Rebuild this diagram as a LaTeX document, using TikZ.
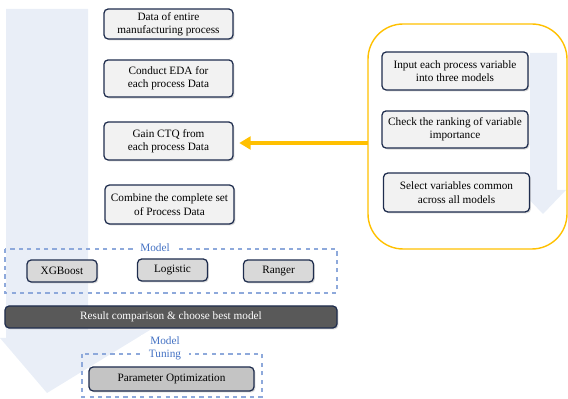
\documentclass[tikz,border=0pt]{standalone}
\usepackage{fontspec}
\setmainfont{Liberation Serif}
\usetikzlibrary{shadows,arrows.meta}

\definecolor{bgblue}{HTML}{E9EEF7}
\definecolor{navy}{HTML}{1F2D4E}
\definecolor{boxgray}{HTML}{F2F2F2}
\definecolor{modgray}{HTML}{D9D9D9}
\definecolor{pargray}{HTML}{C4C4C4}
\definecolor{bargray}{HTML}{595959}
\definecolor{gold}{HTML}{FFC000}
\definecolor{lblue}{HTML}{4472C4}
\definecolor{dashblue}{HTML}{8EA9DB}

\tikzset{
  stepbox/.style={draw=navy,line width=0.9pt,rounded corners=3pt,fill=boxgray,
    align=center,inner sep=1pt,font=\fontsize{8}{9.5}\selectfont,
    drop shadow={shadow xshift=1pt,shadow yshift=-1pt,fill=black!30}},
  modbox/.style={stepbox,fill=modgray,minimum width=1.75cm,minimum height=0.55cm},
  groupbox/.style={draw=dashblue,dashed,line width=0.8pt},
  grouplabel/.style={fill=white,text=lblue,align=center,inner sep=1pt,
    font=\fontsize{8}{9}\selectfont}
}

\begin{document}
\begin{tikzpicture}[x=0.025cm,y=-0.025cm]
\useasboundingbox (0,0) rectangle (568,399);
% big arrow behind the left column
\fill[bgblue] (6,9) -- (88,9) -- (88,330) -- (150,330) -- (47,393) -- (0,338) -- (6,338) -- cycle;

% left column
\node[stepbox,minimum width=3.225cm,minimum height=0.75cm] (data) at (168.5,24) {Data of entire\\manufacturing process};
\node[stepbox,minimum width=3.225cm,minimum height=0.93cm] (eda) at (168.5,78.5) {Conduct EDA for\\each process Data};
\node[stepbox,minimum width=3.225cm,minimum height=0.95cm] (ctq) at (168.5,141) {Gain CTQ from\\each process Data};
\node[stepbox,minimum width=3.225cm,minimum height=0.97cm] (comb) at (169.5,204.5) {Combine the complete set\\of Process Data};

% models
\draw[groupbox] (5,249) rectangle (337,293);
\node[grouplabel,inner xsep=4pt] (modlab) at (155,248) {Model};
\node[modbox] (xgb) at (62,271) {XGBoost};
\node[modbox] (logi) at (172.5,270) {Logistic};
\node[modbox] (rang) at (278.5,271) {Ranger};

\node[stepbox,fill=bargray,text=white,minimum width=8.3cm,minimum height=0.55cm] (result) at (171,317) {Result comparison \& choose best model};

% tuning
\draw[groupbox] (82,354) rectangle (262,397);
\node[grouplabel,inner xsep=6pt] (tunlab) at (165,348) {Model\\Tuning};
\node[stepbox,fill=pargray,minimum width=4.125cm,minimum height=0.6cm] (param) at (171.5,379) {Parameter Optimization};

% right panel
\draw[gold,line width=1pt,rounded corners=25pt] (368,24) rectangle (567,249);
\fill[bgblue] (530,53) -- (557,53) -- (557,190) -- (566,190) -- (543,214) -- (520,190) -- (530,190) -- cycle;
\node[stepbox,minimum width=3.65cm,minimum height=0.95cm] (inp) at (455,71) {Input each process variable\\into three models};
\node[stepbox,minimum width=3.65cm,minimum height=0.93cm] (rank) at (455,129.5) {Check the ranking of variable\\importance};
\node[stepbox,minimum width=3.65cm,minimum height=0.97cm] (sel) at (456.5,192.5) {Select variables common\\across all models};

\coordinate (panel) at (368,143);
\draw[gold,line width=3pt,shorten >=4pt,-{Triangle[length=8pt,width=9pt]}] (panel) -- (ctq.east |- panel);
\end{tikzpicture}
\end{document}
